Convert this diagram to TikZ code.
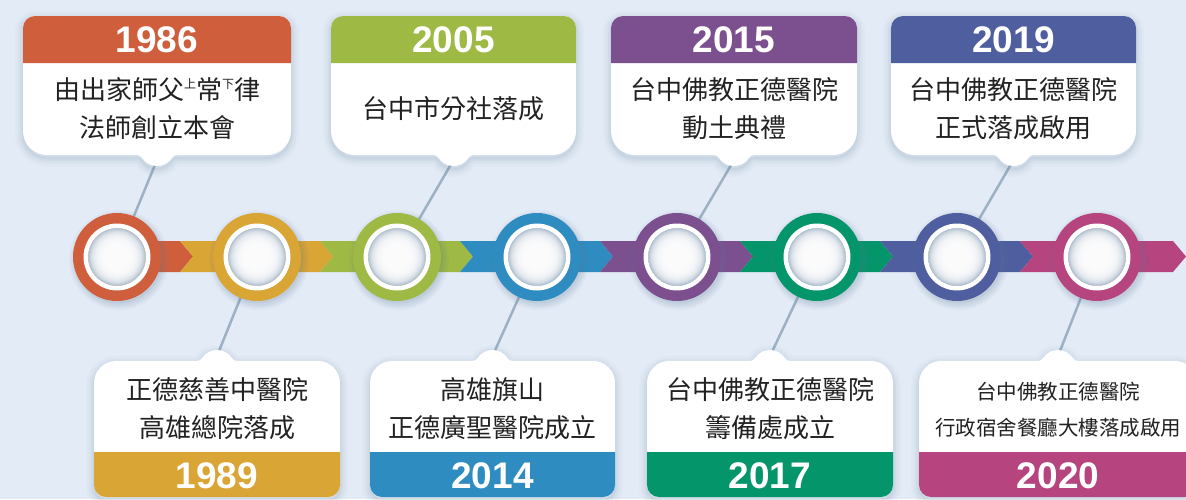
\documentclass[tikz,border=0pt]{standalone}
\usepackage{fontspec}
\setmainfont{Liberation Sans}
\newfontfamily\cjk{Noto Sans CJK TC}
\definecolor{bg}{HTML}{E3EBF6}
\definecolor{cA}{HTML}{CF5F3C}
\definecolor{cB}{HTML}{D9A534}
\definecolor{cC}{HTML}{9EB944}
\definecolor{cD}{HTML}{2E8CC1}
\definecolor{cE}{HTML}{7C4F8F}
\definecolor{cF}{HTML}{05956A}
\definecolor{cG}{HTML}{4F5E9F}
\definecolor{cH}{HTML}{B5447F}
\definecolor{lineC}{HTML}{9CB1C4}
\definecolor{txt}{HTML}{222222}
\definecolor{shd}{HTML}{5F7A96}
\definecolor{dsedge}{HTML}{AEBFCD}
\pgfdeclarelayer{bgl}
\pgfdeclarelayer{conl}
\pgfsetlayers{bgl,conl,main}
\newcommand\supch[1]{\raisebox{11pt}{\fontsize{12}{12}\selectfont #1}}
\tikzset{
  ring/.style={circle, inner sep=0pt, minimum size=88pt},
  disc/.style={circle, inner sep=0pt, minimum size=58pt, fill=dsedge},
  year/.style={font=\fontsize{37}{37}\selectfont\bfseries, text=white, inner sep=0pt},
  desc/.style={font=\cjk\fontsize{26}{38}\selectfont, text=txt, align=center, inner sep=0pt},
  descsmall/.style={font=\cjk\fontsize{20.5}{36}\selectfont, text=txt, align=center, inner sep=0pt},
  conn/.style={draw=lineC, line width=2.5pt},
  halo/.style={draw=shd, line join=round},
}
\newcommand\TopShape[2]{(#1+12,16) -- (#2-12,16) arc[start angle=-90,end angle=0,radius=12]
    -- (#2,131) arc[start angle=0,end angle=90,radius=24]
    -- (\bxc+20.17,155) arc[start angle=-90,end angle=-147.2,radius=6]
    arc[start angle=32.8,end angle=147.2,radius=18]
    arc[start angle=-32.8,end angle=-90,radius=6]
    -- (#1+24,155) arc[start angle=90,end angle=180,radius=24]
    -- (#1,28) arc[start angle=180,end angle=270,radius=12] -- cycle}
\newcommand\BotShape[2]{(#1+22,361) -- (\bxc-20.17,361) arc[start angle=90,end angle=32.8,radius=6]
    arc[start angle=212.8,end angle=327.2,radius=18]
    arc[start angle=147.2,end angle=90,radius=6]
    -- (#2-22,361) arc[start angle=-90,end angle=0,radius=22]
    -- (#2,485) arc[start angle=0,end angle=90,radius=12]
    -- (#1+12,497) arc[start angle=90,end angle=180,radius=12]
    -- (#1,383) arc[start angle=180,end angle=270,radius=22] -- cycle}
\newcommand\Halo[1]{%
  \begin{scope}[yshift=-3pt]
    \draw[halo, line width=16pt, opacity=0.035] #1;
    \draw[halo, line width=11pt, opacity=0.045] #1;
    \draw[halo, line width=6pt, opacity=0.06] #1;
    \draw[halo, line width=2pt, opacity=0.08] #1;
  \end{scope}}
\newcommand\TopBox[3]{%
  \pgfmathsetmacro\bxc{(#1+#2)/2}%
  \Halo{\TopShape{#1}{#2}}%
  \fill[white] \TopShape{#1}{#2};
  \fill[#3] (#1,63) -- (#1,28) arc[start angle=180,end angle=270,radius=12]
    -- (#2-12,16) arc[start angle=-90,end angle=0,radius=12] -- (#2,63) -- cycle;
}
\newcommand\BotBox[3]{%
  \pgfmathsetmacro\bxc{(#1+#2)/2}%
  \Halo{\BotShape{#1}{#2}}%
  \fill[white] \BotShape{#1}{#2};
  \fill[#3] (#1,452) -- (#2,452) -- (#2,485) arc[start angle=0,end angle=90,radius=12]
    -- (#1+12,497) arc[start angle=90,end angle=180,radius=12] -- cycle;
}
\newcommand\CircShadow[2]{%
  \fill[shd, opacity=0.05] (#1+2,#2+3) circle (50);
  \fill[shd, opacity=0.06] (#1+2,#2+3) circle (48);
  \fill[shd, opacity=0.08] (#1+2,#2+3) circle (46);
  \fill[shd, opacity=0.10] (#1+1.5,#2+2) circle (44.5);
}
% soft gradient inside a disc, then its white rim
\newcommand\DiscFace[2]{%
  \foreach \r in {28,27,...,12} {\fill[white, opacity=0.2] (#1,#2) circle (\r);}
  \draw[white, line width=4.5pt] (#1,#2) circle (31.2);
}
\begin{document}
\begin{tikzpicture}[x=1pt,y=-1pt]
\useasboundingbox (0,0) rectangle (1186,499);
\begin{pgfonlayer}{bgl}
  \fill[bg] (0,0) rectangle (1186,499);
\end{pgfonlayer}
% band
\fill[cA] (117,241) -- (180,241) -- (193,256.5) -- (180,272) -- (117,272) -- cycle;
\fill[cB] (180,241) -- (320,241) -- (333,256.5) -- (320,272) -- (180,272) -- (193,256.5) -- cycle;
\fill[cC] (320,241) -- (460,241) -- (473,256.5) -- (460,272) -- (320,272) -- (333,256.5) -- cycle;
\fill[cD] (460,241) -- (600,241) -- (613,256.5) -- (600,272) -- (460,272) -- (473,256.5) -- cycle;
\fill[cE] (600,241) -- (740,241) -- (753,256.5) -- (740,272) -- (600,272) -- (613,256.5) -- cycle;
\fill[cF] (740,241) -- (880,241) -- (893,256.5) -- (880,272) -- (740,272) -- (753,256.5) -- cycle;
\fill[cG] (880,241) -- (1020,241) -- (1033,256.5) -- (1020,272) -- (880,272) -- (893,256.5) -- cycle;
\fill[cH] (1020,241) -- (1173,241) -- (1186,256.5) -- (1173,272) -- (1020,272) -- (1033,256.5) -- cycle;
% circles
\CircShadow{117}{257}
\node[ring, fill=cA] (c1) at (117,257) {};
\node[disc] (d1) at (117,257) {};
\DiscFace{117}{257}
\CircShadow{257}{257}
\node[ring, fill=cB] (c2) at (257,257) {};
\node[disc] (d2) at (257,257) {};
\DiscFace{257}{257}
\CircShadow{397}{257}
\node[ring, fill=cC] (c3) at (397,257) {};
\node[disc] (d3) at (397,257) {};
\DiscFace{397}{257}
\CircShadow{537}{257}
\node[ring, fill=cD] (c4) at (537,257) {};
\node[disc] (d4) at (537,257) {};
\DiscFace{537}{257}
\CircShadow{677}{257}
\node[ring, fill=cE] (c5) at (677,257) {};
\node[disc] (d5) at (677,257) {};
\DiscFace{677}{257}
\CircShadow{817}{257}
\node[ring, fill=cF] (c6) at (817,257) {};
\node[disc] (d6) at (817,257) {};
\DiscFace{817}{257}
\CircShadow{957}{257}
\node[ring, fill=cG] (c7) at (957,257) {};
\node[disc] (d7) at (957,257) {};
\DiscFace{957}{257}
\CircShadow{1097}{257}
\node[ring, fill=cH] (c8) at (1097,257) {};
\node[disc] (d8) at (1097,257) {};
\DiscFace{1097}{257}
% boxes
\TopBox{23}{291}{cA}
\TopBox{331}{576}{cC}
\TopBox{611}{857}{cE}
\TopBox{891}{1136}{cG}
\BotBox{94}{340}{cB}
\BotBox{370}{615}{cD}
\BotBox{647}{893}{cF}
\BotBox{919}{1197}{cH}
% anchor points of connectors
\coordinate (p1) at (157,160);
\coordinate (p3) at (453.5,160);
\coordinate (p5) at (734,160);
\coordinate (p7) at (1013.5,160);
\coordinate (p2) at (217,356);
\coordinate (p4) at (492.5,356);
\coordinate (p6) at (770,356);
\coordinate (p8) at (1058,356);
\begin{pgfonlayer}{conl}
  \draw[conn] (p1) -- (c1.center);
  \draw[conn] (p2) -- (c2.center);
  \draw[conn] (p3) -- (c3.center);
  \draw[conn] (p4) -- (c4.center);
  \draw[conn] (p5) -- (c5.center);
  \draw[conn] (p6) -- (c6.center);
  \draw[conn] (p7) -- (c7.center);
  \draw[conn] (p8) -- (c8.center);
\end{pgfonlayer}
% texts
\node[year] (y1) at (157,40) {1986};
\node[desc] (t1) at (157,109) {由出家師父\supch{上}常\supch{下}律\\法師創立本會};
\node[year] (y3) at (453.5,40) {2005};
\node[desc] (t3) at (453.5,109) {台中市分社落成};
\node[year] (y5) at (734,40) {2015};
\node[desc] (t5) at (734,109) {台中佛教正德醫院\\動土典禮};
\node[year] (y7) at (1013.5,40) {2019};
\node[desc] (t7) at (1013.5,109) {台中佛教正德醫院\\正式落成啟用};
\node[year] (y2) at (217,476) {1989};
\node[desc] (t2) at (217,409) {正德慈善中醫院\\高雄總院落成};
\node[year] (y4) at (492.5,476) {2014};
\node[desc] (t4) at (492.5,409) {高雄旗山\\正德廣聖醫院成立};
\node[year] (y6) at (770,476) {2017};
\node[desc] (t6) at (770,409) {台中佛教正德醫院\\籌備處成立};
\node[year] (y8) at (1058,476) {2020};
\node[descsmall] (t8) at (1058,410) {台中佛教正德醫院\\行政宿舍餐廳大樓落成啟用};
\end{tikzpicture}
\end{document}
